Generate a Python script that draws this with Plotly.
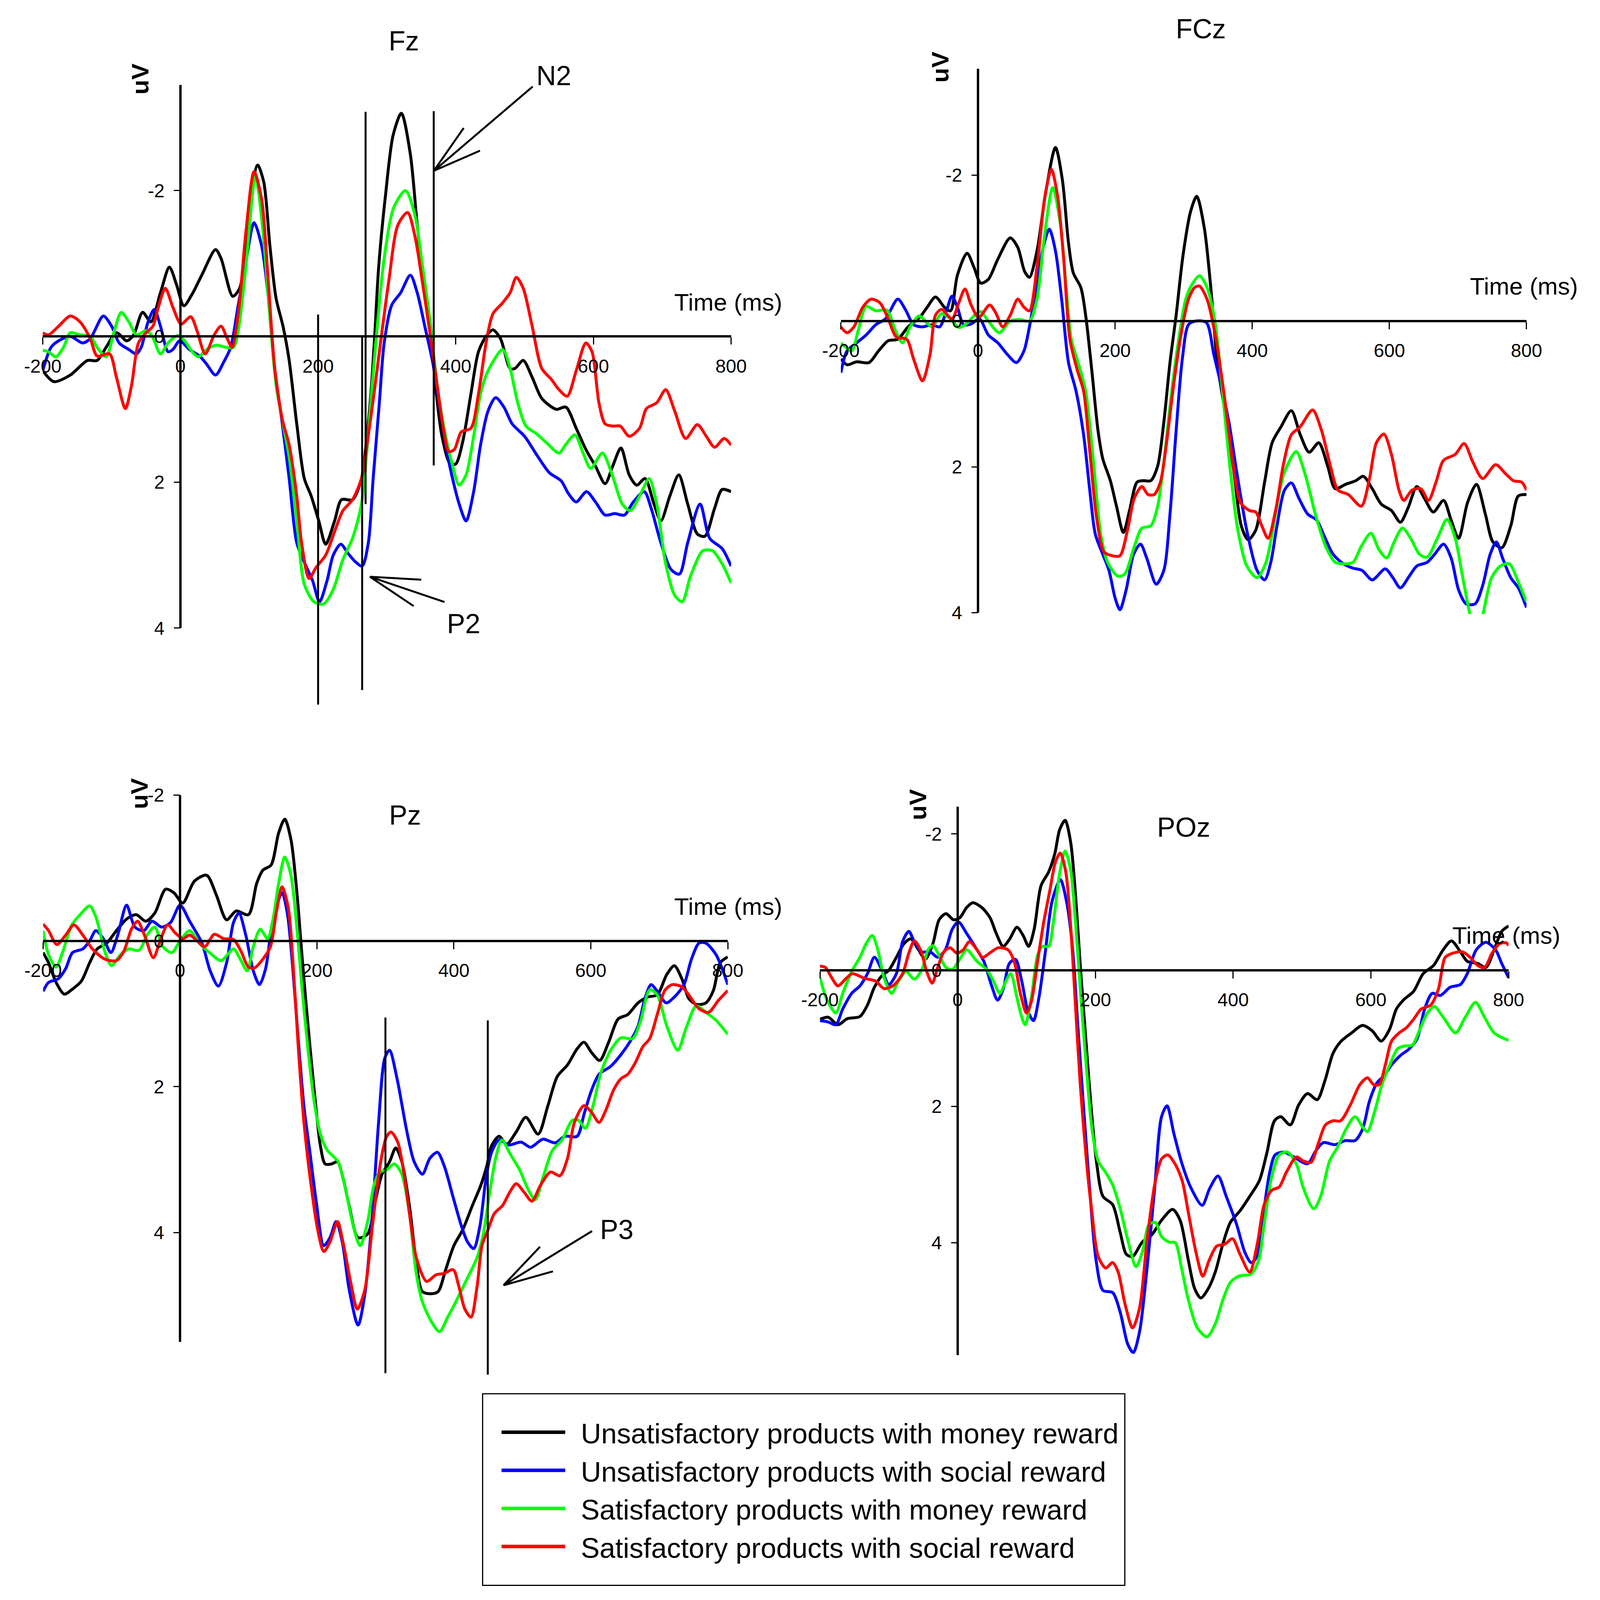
import plotly.graph_objects as go

# reference geometry is measured in a 4701 x 4298 frame; the browser viewport is 4096 x 4096,
# so the figure is drawn at 4080 x 4080 and every position is given as a fraction of the frame.
REF_W, REF_H = 4701, 4298
FIG_W, FIG_H = 4080, 4080
FS = 0.88          # text scale relative to the reference frame

# ---------------- data ----------------
CONDITIONS = [
    "Unsatisfactory products with money reward",
    "Unsatisfactory products with social reward",
    "Satisfactory products with money reward",
    "Satisfactory products with social reward",
]
COLORS = ["#000000", "#0000FF", "#00FF00", "#FF0000"]
ELECTRODES = ["Fz", "FCz", "Pz", "POz"]
X_TICKS = [-200, 0, 200, 400, 600, 800]
X_TICK_TEXT = ["-200", "0", "200", "400", "600", "800"]
Y_TICKS = [-2, 0, 2, 4]
Y_TICK_TEXT = ["-2", "0", "2", "4"]

# ---- Fz ----
FZ_UM_T = [-200, -184, -160, -135, -121, -108, -93, -78, -68, -55, -43, -29, -16, -6, 5, 17, 31, 51, 59, 76, 86, 98, 112, 121, 130, 139, 149, 158, 169, 180, 190, 201, 211, 224, 234, 250, 263, 271, 277, 282, 288, 298, 309, 321, 334, 344, 355, 364, 372, 380, 392, 400, 410, 422, 433, 444, 454, 465, 479, 486, 498, 511, 525, 546, 560, 575, 589, 603, 617, 628, 640, 652, 663, 675, 688, 698, 711, 724, 737, 751, 762, 776, 787, 800]
FZ_UM_V = [0.47, 0.62, 0.53, 0.33, 0.33, 0.15, -0.05, 0.06, -0.02, -0.33, -0.2, -0.6, -0.95, -0.72, -0.42, -0.58, -0.84, -1.19, -1.07, -0.55, -0.66, -1.53, -2.35, -2.12, -1.24, -0.52, -0.14, 0.33, 1.2, 1.95, 2.19, 2.53, 2.85, 2.53, 2.24, 2.24, 1.95, 1.37, 0.75, 0.03, -0.95, -1.94, -2.76, -3.06, -2.5, -1.53, -0.6, 0.0, 0.8, 1.37, 1.75, 1.75, 1.45, 0.79, 0.21, 0.0, -0.09, 0.03, 0.44, 0.44, 0.33, 0.56, 0.85, 1.0, 0.97, 1.26, 1.55, 1.78, 2.02, 1.78, 1.53, 1.9, 2.04, 1.95, 2.3, 2.53, 2.19, 1.9, 2.3, 2.71, 2.74, 2.36, 2.1, 2.13]
FZ_US_T = [-200, -188, -177, -160, -142, -131, -112, -100, -89, -75, -64, -57, -47, -38, -29, -18, -11, -1, 13, 28, 38, 51, 63, 73, 84, 95, 107, 118, 127, 137, 148, 158, 169, 181, 192, 202, 213, 222, 233, 243, 254, 264, 273, 280, 289, 296, 307, 320, 334, 344, 355, 366, 376, 390, 405, 415, 426, 436, 447, 458, 470, 482, 500, 518, 536, 553, 564, 575, 590, 603, 617, 631, 645, 658, 674, 684, 698, 713, 725, 737, 755, 769, 787, 800]
FZ_US_V = [0.47, 0.15, 0.06, 0.0, 0.09, 0.03, -0.28, -0.14, 0.09, 0.18, 0.24, 0.15, -0.2, -0.37, -0.14, 0.21, 0.18, 0.06, 0.18, 0.27, 0.38, 0.53, 0.35, 0.15, -0.43, -1.01, -1.56, -1.24, -0.6, 0.44, 1.2, 1.95, 2.83, 3.12, 3.35, 3.64, 3.35, 3.0, 2.85, 2.97, 3.09, 3.15, 2.83, 1.95, 0.91, 0.09, -0.43, -0.6, -0.84, -0.6, -0.14, 0.33, 0.91, 1.72, 2.3, 2.53, 2.13, 1.49, 1.02, 0.84, 0.97, 1.2, 1.37, 1.63, 1.87, 1.98, 2.16, 2.27, 2.13, 2.27, 2.45, 2.43, 2.45, 2.27, 2.13, 2.36, 2.83, 3.2, 3.26, 2.83, 2.3, 2.77, 2.91, 3.15]
FZ_SM_T = [-200, -192, -181, -170, -160, -146, -131, -121, -108, -96, -86, -75, -64, -50, -41, -29, -18, -4, 6, 17, 26, 38, 52, 66, 77, 84, 95, 109, 119, 130, 139, 149, 158, 169, 180, 194, 208, 222, 236, 250, 263, 271, 278, 286, 296, 310, 327, 341, 351, 362, 373, 383, 394, 405, 415, 426, 436, 447, 468, 479, 490, 502, 518, 532, 550, 560, 573, 585, 596, 613, 628, 642, 654, 667, 681, 692, 705, 718, 729, 741, 759, 773, 787, 800]
FZ_SM_V = [0.19, 0.21, 0.28, 0.15, -0.05, -0.02, 0.0, 0.15, 0.28, -0.08, -0.33, -0.2, -0.02, -0.08, 0.0, 0.24, 0.09, -0.01, 0.06, 0.21, 0.28, 0.18, 0.12, 0.15, 0.15, -0.08, -0.95, -2.2, -1.53, -0.26, 0.67, 1.2, 1.66, 2.53, 3.4, 3.64, 3.67, 3.47, 3.06, 2.77, 2.3, 1.55, 0.73, -0.14, -1.07, -1.77, -2.0, -1.65, -1.01, -0.26, 0.67, 1.26, 1.72, 2.04, 1.9, 1.37, 0.79, 0.47, 0.18, 0.44, 0.91, 1.23, 1.34, 1.46, 1.6, 1.48, 1.35, 1.6, 1.81, 1.6, 1.92, 2.3, 2.39, 2.19, 1.95, 2.3, 3.12, 3.55, 3.64, 3.29, 2.94, 2.94, 3.12, 3.38]
FZ_SS_T = [-200, -192, -177, -160, -146, -131, -121, -103, -93, -80, -71, -61, -50, -40, -33, -22, -11, 1, 15, 24, 36, 49, 59, 68, 75, 84, 95, 107, 118, 127, 137, 148, 158, 169, 176, 187, 197, 211, 225, 236, 250, 263, 271, 282, 293, 303, 316, 330, 341, 351, 362, 373, 382, 390, 398, 408, 422, 433, 444, 454, 468, 479, 488, 498, 511, 525, 539, 550, 562, 575, 589, 598, 608, 617, 628, 639, 652, 667, 677, 692, 705, 718, 734, 751, 764, 776, 790, 800]
FZ_SS_V = [-0.05, -0.02, -0.14, -0.28, -0.2, 0.03, 0.27, 0.24, 0.56, 0.99, 0.67, 0.09, -0.05, -0.14, -0.37, -0.66, -0.4, -0.17, -0.27, -0.08, 0.24, -0.02, -0.14, 0.03, 0.15, -0.31, -1.42, -2.26, -1.88, -0.84, 0.44, 1.14, 1.49, 2.19, 2.83, 3.32, 3.17, 3.0, 2.65, 2.39, 2.24, 1.95, 1.49, 0.73, -0.08, -0.78, -1.53, -1.7, -1.36, -0.78, -0.08, 0.67, 1.26, 1.58, 1.55, 1.31, 1.26, 0.79, 0.09, -0.31, -0.46, -0.6, -0.81, -0.66, -0.14, 0.44, 0.59, 0.73, 0.82, 0.47, 0.09, 0.21, 0.91, 1.2, 1.23, 1.23, 1.37, 1.26, 0.99, 0.91, 0.73, 1.02, 1.4, 1.21, 1.37, 1.52, 1.4, 1.49]

# ---- FCz ----
FCZ_UM_T = [-200, -191, -177, -159, -145, -131, -117, -102, -85, -74, -62, -49, -40, -30, -16, -6, 4, 15, 29, 47, 58, 68, 75, 86, 99, 113, 123, 132, 139, 150, 157, 166, 175, 182, 193, 202, 212, 221, 232, 241, 252, 262, 271, 280, 289, 299, 310, 319, 330, 340, 349, 360, 373, 384, 394, 405, 418, 429, 442, 457, 470, 483, 497, 510, 521, 536, 551, 562, 575, 588, 603, 616, 627, 640, 651, 664, 679, 690, 701, 714, 727, 740, 751, 764, 777, 788, 800]
FCZ_UM_V = [0.52, 0.6, 0.56, 0.57, 0.41, 0.27, 0.25, 0.08, -0.05, -0.19, -0.33, -0.19, -0.14, -0.63, -0.93, -0.74, -0.52, -0.57, -0.85, -1.14, -1.01, -0.68, -0.6, -0.96, -1.78, -2.38, -1.94, -1.07, -0.66, -0.46, -0.08, 0.68, 1.5, 1.89, 2.19, 2.54, 2.9, 2.6, 2.21, 2.19, 2.19, 1.99, 1.39, 0.57, -0.08, -0.9, -1.5, -1.71, -1.28, -0.41, 0.57, 1.23, 2.05, 2.81, 3.0, 2.87, 2.21, 1.67, 1.45, 1.23, 1.56, 1.8, 1.67, 1.99, 2.3, 2.24, 2.19, 2.13, 2.3, 2.51, 2.6, 2.76, 2.57, 2.27, 2.43, 2.62, 2.46, 2.73, 2.98, 2.49, 2.24, 2.65, 3.03, 3.11, 2.81, 2.4, 2.38]
FCZ_US_T = [-200, -191, -177, -163, -149, -135, -117, -106, -94, -81, -67, -56, -46, -38, -30, -21, -10, 2, 15, 29, 43, 56, 67, 75, 86, 95, 104, 113, 122, 132, 143, 154, 163, 171, 182, 191, 200, 207, 216, 227, 237, 246, 260, 271, 280, 289, 298, 307, 318, 333, 344, 355, 366, 377, 392, 407, 418, 427, 436, 447, 457, 468, 481, 494, 505, 518, 533, 547, 560, 575, 594, 605, 616, 629, 640, 655, 666, 679, 690, 701, 712, 725, 736, 747, 756, 765, 777, 788, 800]
FCZ_US_V = [0.71, 0.41, 0.3, 0.19, 0.05, -0.03, -0.3, -0.16, 0.05, 0.08, 0.05, 0.08, -0.14, -0.34, -0.19, 0.05, 0.04, -0.03, 0.19, 0.3, 0.46, 0.57, 0.41, 0.08, -0.52, -1.01, -1.26, -0.96, -0.3, 0.57, 0.96, 1.56, 2.32, 2.92, 3.2, 3.42, 3.8, 3.96, 3.69, 3.2, 3.06, 3.25, 3.61, 3.42, 2.65, 1.5, 0.52, 0.05, 0.0, 0.02, 0.46, 0.9, 1.39, 2.05, 2.87, 3.42, 3.55, 3.31, 2.81, 2.32, 2.22, 2.43, 2.65, 2.73, 2.95, 3.2, 3.33, 3.39, 3.42, 3.55, 3.4, 3.52, 3.66, 3.5, 3.36, 3.31, 3.2, 3.06, 3.25, 3.69, 3.88, 3.88, 3.63, 3.2, 3.03, 3.25, 3.52, 3.66, 3.93]
FCZ_SM_T = [-200, -193, -184, -175, -163, -149, -133, -120, -110, -99, -86, -74, -67, -53, -40, -28, -17, -5, 4, 15, 31, 47, 61, 75, 86, 97, 109, 120, 129, 136, 146, 157, 168, 179, 189, 204, 214, 228, 239, 252, 262, 271, 282, 292, 303, 312, 323, 334, 346, 357, 368, 379, 392, 407, 420, 433, 446, 464, 477, 492, 507, 521, 536, 547, 559, 573, 585, 596, 607, 619, 631, 644, 655, 670, 684, 696, 707, 718, 727, 736, 749, 762, 775, 788, 800]
FCZ_SM_V = [0.3, 0.36, 0.41, 0.14, -0.2, -0.14, -0.15, 0.14, 0.3, 0.08, -0.07, 0.03, 0.08, -0.1, -0.03, 0.09, 0.04, -0.08, -0.13, 0.0, 0.16, 0.0, -0.02, 0.0, -0.3, -1.17, -1.83, -1.34, -0.41, 0.25, 0.57, 0.96, 1.89, 2.92, 3.31, 3.5, 3.47, 3.09, 2.84, 2.81, 2.54, 1.94, 1.01, 0.3, -0.3, -0.5, -0.62, -0.46, 0.03, 1.01, 2.05, 2.87, 3.36, 3.52, 3.31, 2.7, 2.1, 1.79, 2.1, 2.65, 3.09, 3.31, 3.33, 3.31, 3.09, 2.91, 3.14, 3.25, 3.03, 2.84, 2.98, 3.2, 3.24, 2.98, 2.72, 2.98, 3.52, 4.04, 4.3, 4.04, 3.52, 3.36, 3.33, 3.58, 3.85]
FCZ_SS_T = [-200, -191, -181, -168, -156, -143, -131, -119, -104, -94, -81, -70, -62, -53, -38, -28, -19, -10, 1, 17, 26, 36, 47, 58, 67, 75, 86, 97, 107, 116, 125, 134, 145, 154, 163, 173, 184, 196, 207, 218, 228, 239, 248, 257, 266, 275, 285, 296, 307, 316, 323, 334, 346, 359, 371, 383, 396, 405, 414, 423, 434, 446, 457, 470, 488, 501, 514, 525, 540, 559, 571, 581, 592, 603, 614, 621, 633, 646, 657, 668, 679, 696, 709, 722, 736, 755, 770, 781, 793, 800]
FCZ_SS_V = [0.08, 0.16, 0.08, -0.19, -0.3, -0.25, -0.03, 0.22, 0.25, 0.52, 0.82, 0.46, -0.08, -0.16, -0.03, -0.25, -0.44, -0.22, -0.05, -0.22, -0.11, 0.08, -0.08, -0.3, -0.19, -0.14, -0.74, -1.67, -2.08, -1.72, -0.85, 0.25, 0.68, 0.96, 1.78, 2.7, 3.17, 3.22, 3.22, 2.87, 2.43, 2.27, 2.38, 2.38, 2.21, 1.67, 0.9, 0.19, -0.3, -0.46, -0.48, -0.3, 0.19, 1.01, 1.89, 2.49, 2.6, 2.62, 2.81, 2.98, 2.6, 1.94, 1.56, 1.45, 1.22, 1.5, 1.99, 2.32, 2.38, 2.54, 2.16, 1.67, 1.55, 1.83, 2.32, 2.46, 2.32, 2.3, 2.46, 2.21, 1.91, 1.83, 1.68, 1.94, 2.16, 1.97, 2.1, 2.19, 2.21, 2.32]

# ---- Pz ----
PZ_UM_T = [-200, -192, -181, -169, -157, -144, -132, -121, -107, -93, -78, -64, -50, -37, -21, -9, 4, 21, 39, 53, 68, 82, 100, 112, 121, 133, 144, 153, 162, 171, 178, 185, 196, 205, 212, 221, 230, 238, 247, 260, 274, 285, 295, 306, 315, 324, 335, 345, 354, 367, 377, 388, 400, 413, 427, 439, 448, 455, 466, 477, 491, 505, 523, 537, 551, 566, 580, 590, 601, 613, 626, 640, 654, 669, 683, 697, 711, 722, 733, 743, 754, 768, 779, 789, 800]
PZ_UM_V = [0.16, 0.3, 0.57, 0.73, 0.66, 0.55, 0.3, 0.11, 0.03, -0.14, -0.3, -0.36, -0.27, -0.38, -0.71, -0.66, -0.52, -0.82, -0.9, -0.63, -0.29, -0.41, -0.36, -0.79, -0.97, -1.04, -1.48, -1.67, -1.39, -0.63, 0.19, 0.96, 2.05, 2.81, 3.06, 3.06, 3.03, 3.25, 3.63, 4.07, 4.02, 3.58, 3.2, 3.03, 2.84, 3.03, 3.63, 4.4, 4.81, 4.84, 4.81, 4.51, 4.18, 3.96, 3.63, 3.36, 3.09, 2.81, 2.68, 2.79, 2.62, 2.42, 2.65, 2.27, 1.86, 1.7, 1.48, 1.39, 1.53, 1.64, 1.39, 1.07, 1.01, 0.85, 0.77, 0.74, 0.46, 0.34, 0.52, 0.79, 0.87, 0.85, 0.68, 0.3, 0.22]
PZ_US_T = [-200, -192, -178, -167, -157, -142, -132, -123, -112, -101, -91, -78, -66, -53, -41, -27, -14, 0, 14, 32, 44, 56, 68, 78, 86, 96, 107, 116, 125, 135, 149, 157, 164, 173, 181, 190, 199, 210, 219, 228, 237, 247, 260, 270, 281, 290, 299, 306, 317, 331, 342, 354, 365, 376, 386, 399, 411, 420, 429, 438, 447, 455, 466, 480, 498, 512, 530, 548, 562, 580, 590, 601, 612, 629, 644, 658, 669, 679, 688, 697, 710, 722, 736, 747, 758, 768, 783, 793, 800]
PZ_US_V = [0.69, 0.57, 0.52, 0.38, 0.16, 0.11, 0.0, -0.14, -0.03, 0.16, -0.08, -0.49, -0.19, -0.14, -0.27, -0.19, -0.25, -0.49, -0.27, 0.03, 0.41, 0.62, 0.3, -0.25, -0.38, -0.08, 0.41, 0.6, 0.38, -0.25, -0.66, -0.36, 0.3, 1.39, 2.27, 2.92, 3.58, 4.18, 4.07, 3.85, 4.13, 4.78, 5.27, 4.84, 3.74, 2.49, 1.61, 1.5, 1.89, 2.6, 3.03, 3.2, 2.98, 2.9, 3.09, 3.52, 3.91, 4.13, 4.22, 3.91, 3.25, 2.9, 2.73, 2.8, 2.76, 2.83, 2.72, 2.77, 2.68, 2.68, 2.38, 2.05, 1.83, 1.72, 1.56, 1.37, 1.17, 0.79, 0.6, 0.69, 0.85, 0.77, 0.6, 0.25, 0.03, 0.03, 0.19, 0.41, 0.6]
PZ_SM_T = [-200, -192, -181, -171, -158, -146, -132, -123, -110, -100, -87, -75, -60, -48, -37, -25, -12, 0, 14, 28, 43, 60, 78, 89, 98, 107, 117, 128, 135, 144, 153, 162, 171, 178, 187, 196, 205, 215, 231, 242, 253, 263, 274, 283, 292, 302, 313, 324, 335, 345, 354, 367, 379, 391, 406, 420, 434, 443, 452, 461, 470, 482, 496, 509, 519, 530, 544, 558, 573, 582, 592, 603, 615, 629, 644, 661, 672, 686, 697, 711, 727, 739, 754, 768, 783, 800]
PZ_SM_V = [-0.14, 0.19, 0.36, 0.14, -0.22, -0.36, -0.48, -0.33, 0.14, 0.34, 0.19, 0.11, 0.13, -0.08, -0.19, 0.08, 0.16, 0.0, -0.14, 0.03, 0.16, 0.27, 0.11, 0.27, 0.41, 0.08, -0.16, -0.03, -0.25, -0.79, -1.15, -0.9, -0.14, 0.63, 1.5, 2.21, 2.65, 2.87, 3.03, 3.42, 3.91, 4.18, 3.85, 3.36, 3.17, 3.14, 3.06, 3.2, 3.74, 4.56, 4.95, 5.22, 5.36, 5.16, 4.89, 4.62, 4.34, 4.02, 3.47, 2.98, 2.73, 2.92, 3.14, 3.42, 3.55, 3.25, 2.87, 2.73, 2.46, 2.46, 2.57, 2.27, 1.8, 1.5, 1.33, 1.34, 1.12, 0.67, 0.74, 1.17, 1.5, 1.2, 0.89, 0.98, 1.09, 1.28]
PZ_SS_T = [-200, -192, -180, -167, -155, -142, -128, -110, -93, -82, -71, -62, -52, -39, -28, -18, -7, 4, 14, 25, 36, 50, 64, 78, 89, 100, 109, 121, 132, 141, 149, 158, 165, 173, 181, 190, 201, 210, 219, 230, 238, 249, 259, 270, 281, 292, 301, 308, 318, 328, 336, 345, 360, 374, 386, 399, 407, 416, 425, 434, 441, 450, 459, 471, 482, 491, 502, 514, 526, 541, 555, 566, 576, 590, 601, 612, 622, 633, 644, 654, 665, 676, 686, 697, 708, 719, 733, 743, 758, 772, 786, 800]
PZ_SS_V = [-0.23, -0.14, 0.05, -0.08, -0.22, -0.08, 0.11, 0.25, 0.27, 0.14, -0.16, -0.27, -0.08, 0.23, -0.03, -0.22, -0.11, -0.03, -0.08, 0.0, 0.08, -0.09, -0.03, -0.02, 0.14, 0.36, 0.37, 0.25, 0.08, -0.41, -0.74, -0.46, 0.3, 1.5, 2.49, 3.25, 3.96, 4.26, 4.13, 3.85, 4.13, 4.67, 5.05, 4.78, 3.91, 3.09, 2.7, 2.62, 2.76, 3.25, 3.8, 4.34, 4.67, 4.58, 4.56, 4.51, 4.73, 5.05, 5.16, 4.73, 4.18, 3.96, 3.74, 3.63, 3.44, 3.33, 3.44, 3.57, 3.36, 3.17, 3.22, 2.98, 2.49, 2.26, 2.35, 2.49, 2.32, 2.05, 1.89, 1.83, 1.67, 1.45, 1.34, 1.01, 0.68, 0.6, 0.63, 0.74, 0.93, 0.98, 0.82, 0.68]

# ---- POz ----
POZ_UM_T = [-200, -188, -174, -160, -142, -131, -121, -110, -100, -89, -78, -68, -57, -47, -36, -27, -17, -6, 3, 13, 22, 35, 47, 56, 66, 75, 86, 95, 103, 111, 121, 132, 141, 148, 156, 164, 171, 178, 185, 194, 202, 211, 225, 236, 245, 254, 268, 282, 296, 312, 323, 335, 344, 353, 364, 374, 385, 396, 410, 424, 438, 449, 460, 469, 483, 495, 508, 522, 533, 545, 556, 572, 588, 602, 615, 627, 637, 648, 662, 676, 691, 705, 717, 730, 740, 755, 767, 779, 790, 800]
POZ_UM_V = [0.72, 0.69, 0.8, 0.71, 0.68, 0.51, 0.25, 0.08, 0.0, -0.19, -0.39, -0.46, -0.3, -0.16, -0.39, -0.74, -0.83, -0.74, -0.77, -0.92, -0.99, -0.92, -0.77, -0.54, -0.35, -0.45, -0.63, -0.51, -0.35, -0.6, -1.24, -1.44, -1.71, -2.06, -2.2, -1.88, -1.12, -0.07, 0.87, 2.04, 2.85, 3.32, 3.44, 3.85, 4.17, 4.2, 3.99, 3.88, 3.67, 3.51, 3.67, 4.26, 4.67, 4.81, 4.67, 4.43, 4.02, 3.7, 3.53, 3.32, 3.09, 2.68, 2.21, 2.15, 2.27, 1.98, 1.81, 1.9, 1.63, 1.22, 1.05, 0.92, 0.81, 0.89, 1.04, 0.87, 0.57, 0.43, 0.31, 0.05, -0.07, -0.3, -0.43, -0.27, -0.13, -0.1, -0.04, -0.3, -0.57, -0.65]
POZ_US_T = [-200, -188, -177, -167, -154, -142, -131, -121, -110, -100, -89, -80, -71, -63, -52, -40, -29, -18, -8, 1, 13, 28, 38, 49, 58, 66, 75, 84, 93, 102, 110, 118, 127, 137, 149, 158, 167, 174, 183, 192, 201, 211, 225, 236, 247, 255, 264, 275, 286, 296, 304, 314, 326, 339, 355, 366, 378, 390, 405, 417, 426, 433, 444, 453, 461, 474, 488, 508, 520, 531, 548, 563, 577, 588, 598, 609, 620, 630, 643, 655, 667, 678, 689, 701, 715, 730, 740, 753, 767, 781, 790, 800]
POZ_US_V = [0.74, 0.76, 0.8, 0.57, 0.34, 0.23, 0.05, -0.19, 0.0, 0.21, 0.05, -0.42, -0.57, -0.42, -0.27, -0.27, -0.19, -0.3, -0.6, -0.71, -0.54, -0.3, -0.13, 0.22, 0.44, 0.28, -0.1, -0.16, 0.16, 0.6, 0.74, 0.4, -0.25, -1.01, -1.33, -1.01, -0.3, 0.75, 2.04, 3.26, 4.26, 4.7, 4.73, 5.02, 5.49, 5.61, 5.31, 4.37, 3.2, 2.15, 1.99, 2.4, 2.85, 3.2, 3.45, 3.2, 3.02, 3.32, 3.73, 4.14, 4.29, 4.23, 3.56, 2.97, 2.71, 2.67, 2.74, 2.84, 2.65, 2.53, 2.56, 2.5, 2.5, 2.33, 1.92, 1.65, 1.54, 1.39, 1.25, 1.16, 1.01, 0.57, 0.34, 0.37, 0.25, 0.21, 0.05, -0.3, -0.41, -0.3, -0.1, 0.11]
POZ_SM_T = [-200, -190, -177, -167, -154, -142, -133, -124, -116, -107, -96, -86, -75, -63, -52, -43, -36, -27, -17, -8, 3, 13, 28, 42, 52, 61, 70, 77, 86, 93, 98, 107, 116, 123, 132, 139, 148, 156, 164, 171, 178, 187, 195, 204, 215, 225, 236, 247, 259, 268, 278, 287, 296, 307, 316, 325, 335, 348, 362, 374, 385, 396, 408, 426, 437, 445, 456, 467, 479, 492, 502, 517, 527, 540, 552, 564, 577, 588, 595, 605, 616, 627, 639, 650, 660, 671, 682, 692, 705, 723, 737, 752, 765, 779, 800]
POZ_SM_V = [0.11, 0.43, 0.63, 0.34, 0.02, -0.19, -0.39, -0.51, -0.3, 0.11, 0.34, 0.16, 0.02, 0.13, -0.01, -0.3, -0.36, -0.22, -0.04, -0.01, -0.16, -0.3, -0.13, -0.01, 0.16, 0.34, 0.16, 0.05, 0.4, 0.69, 0.8, 0.4, -0.22, -0.35, -0.35, -0.71, -1.42, -1.75, -1.47, -0.71, 0.28, 1.45, 2.33, 2.8, 2.97, 3.15, 3.5, 3.96, 4.35, 4.14, 3.73, 3.7, 3.91, 3.99, 4.0, 4.37, 4.84, 5.25, 5.38, 5.19, 4.84, 4.58, 4.49, 4.46, 4.26, 3.73, 3.03, 2.71, 2.67, 2.85, 3.2, 3.5, 3.32, 2.8, 2.59, 2.33, 2.15, 2.3, 2.37, 2.09, 1.68, 1.4, 1.15, 1.11, 1.1, 0.87, 0.63, 0.53, 0.69, 0.92, 0.69, 0.47, 0.69, 0.92, 1.03]
POZ_SS_T = [-200, -192, -183, -174, -163, -153, -135, -119, -107, -93, -80, -71, -63, -54, -45, -37, -29, -20, -11, -1, 8, 17, 28, 36, 49, 59, 73, 82, 91, 100, 107, 116, 125, 134, 142, 149, 157, 164, 171, 178, 187, 195, 204, 215, 225, 233, 243, 254, 264, 275, 286, 296, 305, 316, 326, 335, 346, 356, 365, 376, 388, 399, 410, 424, 435, 445, 456, 467, 477, 492, 502, 513, 524, 534, 545, 556, 570, 584, 595, 604, 612, 621, 630, 641, 652, 662, 673, 687, 698, 708, 719, 733, 744, 755, 765, 776, 787, 797, 800]
POZ_SS_V = [-0.06, -0.04, 0.11, 0.23, 0.13, 0.05, 0.12, 0.16, 0.27, 0.22, 0.05, -0.25, -0.43, -0.3, 0.02, 0.19, -0.04, -0.27, -0.33, -0.25, -0.3, -0.42, -0.3, -0.19, -0.27, -0.33, -0.3, -0.13, 0.34, 0.63, 0.46, -0.13, -0.71, -1.18, -1.59, -1.72, -1.44, -0.65, 0.51, 1.68, 2.8, 3.56, 4.2, 4.37, 4.29, 4.43, 4.9, 5.25, 4.96, 3.96, 3.15, 2.77, 2.71, 2.85, 3.09, 3.56, 4.14, 4.49, 4.26, 4.05, 4.02, 3.94, 4.17, 4.43, 4.02, 3.44, 3.23, 3.18, 2.97, 2.74, 2.8, 2.82, 2.53, 2.27, 2.21, 2.21, 1.98, 1.68, 1.58, 1.68, 1.68, 1.39, 1.04, 0.92, 0.84, 0.72, 0.57, 0.51, 0.28, -0.19, -0.25, -0.27, -0.19, -0.07, -0.04, -0.25, -0.39, -0.4, -0.36]

SERIES = {
    "Fz": [(FZ_UM_T, FZ_UM_V), (FZ_US_T, FZ_US_V), (FZ_SM_T, FZ_SM_V), (FZ_SS_T, FZ_SS_V)],
    "FCz": [(FCZ_UM_T, FCZ_UM_V), (FCZ_US_T, FCZ_US_V), (FCZ_SM_T, FCZ_SM_V), (FCZ_SS_T, FCZ_SS_V)],
    "Pz": [(PZ_UM_T, PZ_UM_V), (PZ_US_T, PZ_US_V), (PZ_SM_T, PZ_SM_V), (PZ_SS_T, PZ_SS_V)],
    "POz": [(POZ_UM_T, POZ_UM_V), (POZ_US_T, POZ_US_V), (POZ_SM_T, POZ_SM_V), (POZ_SS_T, POZ_SS_V)],
}

# component marker lines (time in ms, top uV, bottom uV)
MARKER_TIMES = {"Fz": [200, 264, 269, 368], "Pz": [300, 449.5]}
MARKER_TOPS = {"Fz": [-0.3, 0.0, -3.08, -3.09], "Pz": [1.05, 1.09]}
MARKER_BOTTOMS = {"Fz": [5.05, 4.85, 2.3, 1.77], "Pz": [5.93, 5.95]}
COMPONENT_LABELS = ["N2", "P2", "P3"]

# ---------------- layout geometry (reference-frame pixels) ----------------
GEOM = {
    "Fz":  dict(xl=63, xr=2138, y0=882, ppu=199, yr=(-3.45, 5.1), yend=4.0,
                title=(1152, 76), uv=(357, 180), time=(2295, 789)),
    "FCz": dict(xl=2469, xr=4536, y0=840, ppu=199, yr=(-3.46, 4.02), yend=4.0,
                title=(3554, 43), uv=(2768, 147), time=(4694, 745)),
    "Pz":  dict(xl=64, xr=2128, y0=2532, ppu=199, yr=(-2.0, 6.0), yend=5.5,
                title=(1155, 2189), uv=(354, 2130), time=(2295, 2438)),
    "POz": dict(xl=2406, xr=4482, y0=2612, ppu=186, yr=(-2.4, 5.65), yend=5.65,
                title=(3502, 2222), uv=(2701, 2160), time=(4641, 2517)),
}
FONT = "Liberation Sans, Arial, sans-serif"


def px(x):
    return x / REF_W


def py(y):
    return 1 - y / REF_H


def fs(v):
    return round(v * FS)


fig = go.Figure()
layout = dict(width=FIG_W, height=FIG_H, margin=dict(l=0, r=0, t=0, b=0), autosize=False,
              paper_bgcolor="white", plot_bgcolor="rgba(0,0,0,0)", showlegend=False)
shapes, annotations = [], []

for i, el in enumerate(ELECTRODES):
    g = GEOM[el]
    n = "" if i == 0 else str(i + 1)
    xa, ya = "x" + n, "y" + n
    top_px = g["y0"] + g["yr"][0] * g["ppu"]
    bot_px = g["y0"] + g["yr"][1] * g["ppu"]
    x0_px = g["xl"] + 0.2 * (g["xr"] - g["xl"])
    layout["xaxis" + n] = dict(
        domain=[px(g["xl"]), px(g["xr"])], range=[-200, 800], anchor="free",
        position=py(g["y0"]), showline=True, linecolor="black", linewidth=6,
        ticks="outside", ticklen=18, tickwidth=3, tickcolor="black",
        tickvals=X_TICKS, ticktext=X_TICK_TEXT, ticklabelstandoff=14,
        tickfont=dict(family=FONT, size=fs(54), color="black"),
        showgrid=False, zeroline=False)
    layout["yaxis" + n] = dict(
        domain=[py(bot_px), py(top_px)], range=[g["yr"][1], g["yr"][0]], anchor="free",
        position=px(x0_px), showline=False, ticks="outside", ticklen=17, tickwidth=3,
        tickcolor="black", tickvals=Y_TICKS, ticktext=Y_TICK_TEXT, ticklabelstandoff=14,
        tickfont=dict(family=FONT, size=fs(54), color="black"),
        showgrid=False, zeroline=False)

    for (t, v), name, col in zip(SERIES[el], CONDITIONS, COLORS):
        fig.add_trace(go.Scatter(x=t, y=v, mode="lines", name=name, xaxis=xa, yaxis=ya,
                                 line=dict(color=col, width=7.5, shape="spline", smoothing=0.8),
                                 showlegend=False))

    # vertical y-axis line (from top of the range to the end of the axis)
    shapes.append(dict(type="line", xref=xa, yref=ya, x0=0, x1=0, y0=g["yr"][0], y1=g["yend"],
                       line=dict(color="black", width=6)))
    for tm, a, b in zip(MARKER_TIMES.get(el, []), MARKER_TOPS.get(el, []),
                        MARKER_BOTTOMS.get(el, [])):
        shapes.append(dict(type="line", xref=xa, yref=ya, x0=tm, x1=tm, y0=a, y1=b,
                           line=dict(color="black", width=5)))

    annotations.append(dict(text=el, x=px(g["title"][0]), y=py(g["title"][1]), xref="paper",
                            yref="paper", showarrow=False, xanchor="center", yanchor="middle",
                            font=dict(family=FONT, size=fs(80), color="black")))
    annotations.append(dict(text="<b>uV</b>", x=px(g["uv"][0]), y=py(g["uv"][1]), xref="paper",
                            yref="paper", showarrow=False, textangle=-90, xanchor="center",
                            yanchor="middle", font=dict(family=FONT, size=62, color="black")))
    annotations.append(dict(text="Time (ms)", x=px(g["time"][0]), y=py(g["time"][1]),
                            xref="paper", yref="paper", showarrow=False, xanchor="right",
                            yanchor="middle", font=dict(family=FONT, size=fs(70), color="black")))

# component arrows (tip, tail, barb1, barb2, label position) in reference-frame pixels
ARROWS = [
    ((1242, 430), (1540, 200), (1332, 313), (1381, 375), (1603, 171)),
    ((1049, 1538), (1274, 1607), (1204, 1546), (1181, 1618), (1332, 1667)),
    ((1452, 3472), (1719, 3324), (1562, 3367), (1601, 3434), (1794, 3320)),
]
for lab, (tip, tail, b1, b2, lp) in zip(COMPONENT_LABELS, ARROWS):
    for end in (tail, b1, b2):
        shapes.append(dict(type="line", xref="paper", yref="paper", x0=px(tip[0]), y0=py(tip[1]),
                           x1=px(end[0]), y1=py(end[1]), line=dict(color="black", width=5)))
    annotations.append(dict(text=lab, x=px(lp[0]), y=py(lp[1]), xref="paper", yref="paper",
                            showarrow=False, xanchor="center", yanchor="middle",
                            font=dict(family=FONT, size=fs(80), color="black")))

# legend box drawn by hand (long line samples as in the reference)
LEG_BOX = (1389, 3768, 3325, 4291)
LEG_ROWS = [3873, 3977, 4081, 4185]
shapes.append(dict(type="rect", xref="paper", yref="paper", x0=px(LEG_BOX[0]), y0=py(LEG_BOX[3]),
                   x1=px(LEG_BOX[2]), y1=py(LEG_BOX[1]), line=dict(color="black", width=3),
                   fillcolor="rgba(0,0,0,0)"))
for name, col, ry in zip(CONDITIONS, COLORS, LEG_ROWS):
    shapes.append(dict(type="line", xref="paper", yref="paper", x0=px(1446), x1=px(1638),
                       y0=py(ry), y1=py(ry), line=dict(color=col, width=9)))
    annotations.append(dict(text=name, x=px(1683), y=py(ry + 4), xref="paper", yref="paper",
                            showarrow=False, xanchor="left", yanchor="middle",
                            font=dict(family=FONT, size=fs(82), color="black")))

layout["shapes"] = shapes
layout["annotations"] = annotations
fig.update_layout(**layout)
fig.write_html("out.html")
